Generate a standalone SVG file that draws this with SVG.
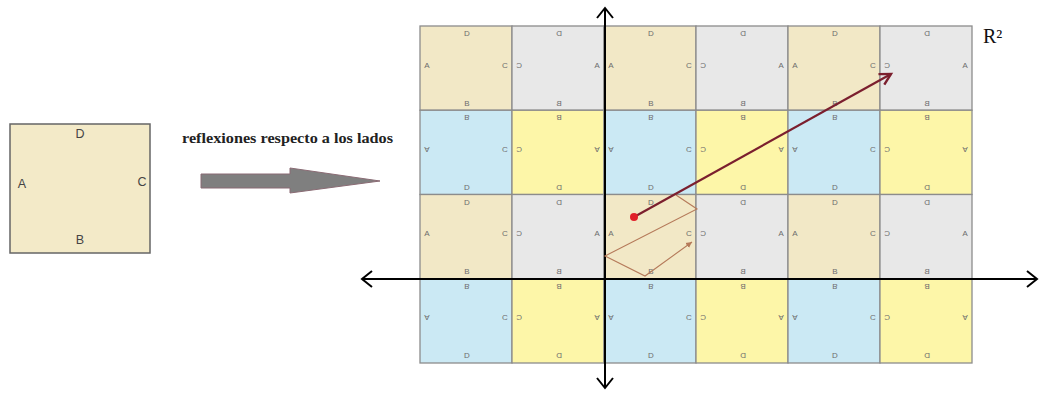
<svg xmlns="http://www.w3.org/2000/svg" xmlns:xlink="http://www.w3.org/1999/xlink" width="1041" height="397" viewBox="0 0 1041 397">
<style>
.lt{font-family:"Liberation Sans",Arial,sans-serif;font-size:8px;fill:#6d6d6d;text-anchor:middle;dominant-baseline:central}
.cell{stroke:#8c8c8c;stroke-width:1.3}
.tan{fill:#f2e8c6}.gry{fill:#e8e8e8}.blu{fill:#cbe9f4}.yel{fill:#fdf6a8}
.axis{stroke:#000;stroke-width:2;fill:none}
.big{font-family:"Liberation Sans",Arial,sans-serif;font-size:12.5px;fill:#444;text-anchor:middle;dominant-baseline:central}
</style>
<defs>
<g id="cTan">
<rect class="cell tan" x="0" y="0" width="92" height="84.25"/>
<text class="lt" transform="translate(47,7.5)">D</text>
<text class="lt" transform="translate(7,39)">A</text>
<text class="lt" transform="translate(85,39)">C</text>
<text class="lt" transform="translate(47,77)">B</text>
</g>
<g id="cGry">
<rect class="cell gry" x="0" y="0" width="92" height="84.25"/>
<text class="lt" transform="translate(47,7.5) scale(-1,1)">D</text>
<text class="lt" transform="translate(7,39) scale(-1,1)">C</text>
<text class="lt" transform="translate(85,39) scale(-1,1)">A</text>
<text class="lt" transform="translate(47,77) scale(-1,1)">B</text>
</g>
<g id="cBlu">
<rect class="cell blu" x="0" y="0" width="92" height="84.25"/>
<text class="lt" transform="translate(47,7.5) scale(1,-1)">B</text>
<text class="lt" transform="translate(7,39) scale(1,-1)">A</text>
<text class="lt" transform="translate(85,39) scale(1,-1)">C</text>
<text class="lt" transform="translate(47,77) scale(1,-1)">D</text>
</g>
<g id="cYel">
<rect class="cell yel" x="0" y="0" width="92" height="84.25"/>
<text class="lt" transform="translate(47,7.5) scale(-1,-1)">B</text>
<text class="lt" transform="translate(7,39) scale(-1,-1)">C</text>
<text class="lt" transform="translate(85,39) scale(-1,-1)">A</text>
<text class="lt" transform="translate(47,77) scale(-1,-1)">D</text>
</g>
<marker id="vHead" markerUnits="userSpaceOnUse" markerWidth="16" markerHeight="16" refX="12" refY="7" orient="auto" viewBox="0 0 16 14">
<path d="M1,1 L12,7 L1,13" fill="none" stroke="#7b1f2e" stroke-width="2.4"/>
</marker>
<marker id="pHead" markerUnits="userSpaceOnUse" markerWidth="8" markerHeight="8" refX="6" refY="4" orient="auto" viewBox="0 0 8 8">
<path d="M0,1 L6,4 L0,7 Z" fill="#b57a5a"/>
</marker>
</defs>

<g id="square">
<rect x="10" y="124" width="140" height="129" fill="#f3eac8" stroke="#666" stroke-width="1.5"/>
<text class="big" x="80" y="134">D</text>
<text class="big" x="22" y="184">A</text>
<text class="big" x="142" y="182">C</text>
<text class="big" x="80" y="240">B</text>
</g>

<g id="label">
<text x="182" y="143" font-family="'Liberation Serif','Times New Roman',serif" font-weight="bold" font-size="14.5" fill="#222" textLength="211" lengthAdjust="spacingAndGlyphs">reflexiones respecto a los lados</text>
</g>

<g id="bigArrow">
<path d="M201,174 L290,174 L290,168 L380,181 L290,193 L290,188 L201,188 Z" fill="#7f7f7f" stroke="#8a6b74" stroke-width="1"/>
</g>

<g id="grid">
<use xlink:href="#cTan" x="420" y="26"/><use xlink:href="#cGry" x="512" y="26"/><use xlink:href="#cTan" x="604" y="26"/><use xlink:href="#cGry" x="696" y="26"/><use xlink:href="#cTan" x="788" y="26"/><use xlink:href="#cGry" x="880" y="26"/>
<use xlink:href="#cBlu" x="420" y="110.25"/><use xlink:href="#cYel" x="512" y="110.25"/><use xlink:href="#cBlu" x="604" y="110.25"/><use xlink:href="#cYel" x="696" y="110.25"/><use xlink:href="#cBlu" x="788" y="110.25"/><use xlink:href="#cYel" x="880" y="110.25"/>
<use xlink:href="#cTan" x="420" y="194.5"/><use xlink:href="#cGry" x="512" y="194.5"/><use xlink:href="#cTan" x="604" y="194.5"/><use xlink:href="#cGry" x="696" y="194.5"/><use xlink:href="#cTan" x="788" y="194.5"/><use xlink:href="#cGry" x="880" y="194.5"/>
<use xlink:href="#cBlu" x="420" y="278.75"/><use xlink:href="#cYel" x="512" y="278.75"/><use xlink:href="#cBlu" x="604" y="278.75"/><use xlink:href="#cYel" x="696" y="278.75"/><use xlink:href="#cBlu" x="788" y="278.75"/><use xlink:href="#cYel" x="880" y="278.75"/>
</g>

<g id="r2">
<text x="983" y="43" font-family="'Liberation Serif','Times New Roman',serif" font-size="20" fill="#111">R²</text>
</g>

<g id="connectors">
<g id="axes">
<line class="axis" x1="605" y1="9" x2="605" y2="387"/>
<path class="axis" d="M597,18 L605,8 L613,18"/>
<path class="axis" d="M597,378 L605,388 L613,378"/>
<line class="axis" x1="363" y1="279" x2="1036" y2="279"/>
<path class="axis" d="M372,271 L362,279 L372,287"/>
<path class="axis" d="M1027,271 L1037,279 L1027,287"/>
</g>
<polyline id="path" points="676,195 697,209 605,256 645,276 692,242" fill="none" stroke="#b57a5a" stroke-width="1.1" marker-end="url(#pHead)"/>
<line id="vector" x1="634" y1="217" x2="891" y2="74" stroke="#7b1f2e" stroke-width="2.2" marker-end="url(#vHead)"/>
<circle cx="634" cy="217" r="4" fill="#e0202a"/>
</g>
</svg>
